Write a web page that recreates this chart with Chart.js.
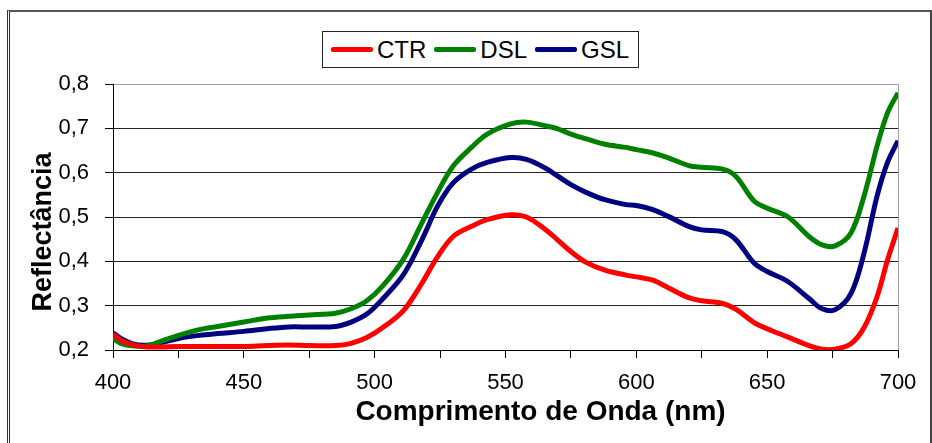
<!DOCTYPE html>
<html>
<head>
<meta charset="utf-8">
<script src="https://cdn.jsdelivr.net/npm/chart.js@4"></script>
<style>
    html, body { margin: 0; padding: 0; background: #fff; }
    #wrap { position: relative; width: 932px; height: 443px; overflow: hidden; }
    #frame {
        position: absolute; left: 7px; top: 10px; width: 920px; height: 440px;
        border-top: 2px solid #555; border-left: 3px double #333; border-right: 2px solid #444;
    }
    #legend {
        position: absolute; left: 322px; top: 31px; width: 317px; height: 37px;
        border: 1px solid #222; display: flex; align-items: center; padding-left: 8px;
        font-family: "Liberation Sans", Arial, sans-serif; font-size: 24px; color: #000;
        box-sizing: border-box; background: #fff;
    }
    .item { display: flex; align-items: center; margin-right: 8px; }
    .swatch { width: 42px; height: 5px; margin-right: 4px; border-radius: 2px; }
    canvas { position: absolute; left: 0; top: 0; }
</style>
</head>
<body>
<div id="wrap">
    <div id="frame"></div>
    <canvas id="chart" width="932" height="443"></canvas>
    <div id="legend"></div>
</div>
<script>
// ========================================
// DATA
// ========================================
const wavelengths = [400, 403, 408, 413, 418, 425, 433, 440, 450, 459, 467, 475, 485, 491, 497, 503,
    511, 518, 524, 530, 537, 543, 552, 558, 565, 570, 575, 581, 588, 596, 600, 606, 612, 620, 625,
    633, 638, 645, 650, 658, 666, 671, 676, 682, 687, 692, 696, 700];

const ctrValues = [0.236, 0.222, 0.211, 0.207, 0.207, 0.208, 0.208, 0.208, 0.208, 0.210, 0.211, 0.210,
    0.210, 0.215, 0.228, 0.250, 0.289, 0.350, 0.410, 0.456, 0.479, 0.494, 0.505, 0.500, 0.473, 0.448,
    0.422, 0.397, 0.380, 0.369, 0.365, 0.358, 0.341, 0.318, 0.311, 0.305, 0.292, 0.262, 0.248, 0.229,
    0.210, 0.202, 0.202, 0.214, 0.250, 0.320, 0.403, 0.475];

const dslValues = [0.226, 0.215, 0.209, 0.209, 0.219, 0.233, 0.246, 0.253, 0.263, 0.272, 0.276, 0.279,
    0.283, 0.293, 0.311, 0.344, 0.405, 0.486, 0.555, 0.615, 0.657, 0.687, 0.710, 0.714, 0.706, 0.699,
    0.687, 0.676, 0.664, 0.657, 0.652, 0.645, 0.634, 0.616, 0.612, 0.608, 0.592, 0.536, 0.520, 0.500,
    0.456, 0.437, 0.435, 0.464, 0.547, 0.660, 0.735, 0.780];

const gslValues = [0.239, 0.226, 0.213, 0.211, 0.216, 0.226, 0.233, 0.237, 0.242, 0.248, 0.252, 0.252,
    0.253, 0.263, 0.281, 0.315, 0.370, 0.448, 0.524, 0.577, 0.608, 0.623, 0.634, 0.630, 0.611, 0.592,
    0.573, 0.555, 0.539, 0.528, 0.526, 0.517, 0.502, 0.479, 0.471, 0.467, 0.449, 0.396, 0.377, 0.354,
    0.316, 0.293, 0.291, 0.327, 0.418, 0.547, 0.623, 0.672];

const seriesNames = ['CTR', 'DSL', 'GSL'];
const seriesColors = ['#ff0000', '#008000', '#000080'];
const seriesValues = [ctrValues, dslValues, gslValues];

const xTitle = 'Comprimento de Onda (nm)';
const yTitle = 'Reflectância';

// ========================================
// LEGEND (boxed, like the original)
// ========================================
const legend = document.getElementById('legend');
seriesNames.forEach((name, i) => {
    const item = document.createElement('div');
    item.className = 'item';
    const sw = document.createElement('span');
    sw.className = 'swatch';
    sw.style.background = seriesColors[i];
    const label = document.createElement('span');
    label.textContent = name;
    item.appendChild(sw);
    item.appendChild(label);
    legend.appendChild(item);
});

// ========================================
// CHART
// ========================================
const near = (a, b) => Math.abs(a - b) < 1e-6;
// the original titles sit a little off the plot centre; pad them with spaces to nudge them
const pad = (n) => ' '.repeat(n);

new Chart(document.getElementById('chart'), {
    type: 'line',
    data: {
        datasets: seriesNames.map((name, i) => ({
            label: name,
            data: wavelengths.map((w, j) => ({ x: w, y: seriesValues[i][j] })),
            borderColor: seriesColors[i],
            backgroundColor: seriesColors[i],
            borderWidth: 5,
            pointRadius: 0,
            tension: 0.35,
            fill: false
        }))
    },
    options: {
        responsive: false,
        animation: false,
        layout: { padding: { top: 84, right: 34, left: 0, bottom: 0 } },
        plugins: {
            legend: { display: false },
            tooltip: { enabled: false }
        },
        scales: {
            x: {
                type: 'linear',
                min: 400,
                max: 700,
                afterFit: (scale) => { scale.height = 93; },
                ticks: {
                    stepSize: 25,
                    autoSkip: false,
                    maxRotation: 0,
                    padding: 12,
                    color: '#000',
                    font: { family: '"Liberation Sans", Arial, sans-serif', size: 22 },
                    callback: (v) => (v % 50 === 0 ? String(v) : '')
                },
                grid: {
                    drawOnChartArea: true,
                    color: (ctx) => (ctx.tick && ctx.tick.value === 700 ? '#a0a0a0' : 'rgba(0,0,0,0)'),
                    tickColor: '#000',
                    tickLength: 8,
                    lineWidth: 1
                },
                border: { color: '#000', width: 1 },
                title: {
                    display: true,
                    text: pad(9) + xTitle,
                    color: '#000',
                    padding: { top: 0, bottom: 14 },
                    font: { family: '"Liberation Sans", Arial, sans-serif', size: 28, weight: 'bold' }
                }
            },
            y: {
                min: 0.2,
                max: 0.8,
                afterFit: (scale) => { scale.width = 113; },
                ticks: {
                    stepSize: 0.1,
                    padding: 16,
                    color: '#000',
                    font: { family: '"Liberation Sans", Arial, sans-serif', size: 22 },
                    callback: (v) => v.toFixed(1).replace('.', ',')
                },
                grid: {
                    color: (ctx) => (ctx.tick && near(ctx.tick.value, 0.8) ? '#a0a0a0' : '#222'),
                    tickColor: '#000',
                    tickLength: 8,
                    lineWidth: 1
                },
                border: { color: '#000', width: 1 },
                title: {
                    display: true,
                    text: yTitle + pad(4),
                    color: '#000',
                    padding: { top: 27, bottom: 0 },
                    font: { family: '"Liberation Sans", Arial, sans-serif', size: 27, weight: 'bold' }
                }
            }
        }
    }
});
</script>
</body>
</html>
